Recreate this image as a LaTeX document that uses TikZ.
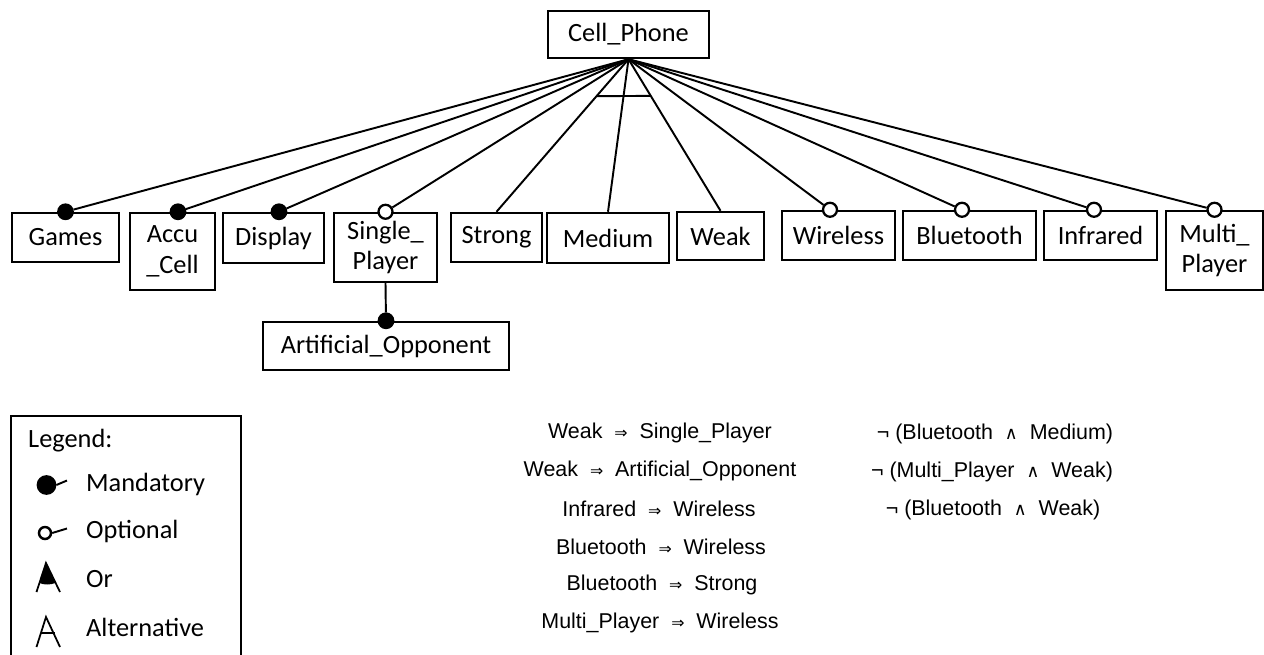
\documentclass[tikz,border=0pt]{standalone}
\usepackage{fontspec}
\setmainfont{Carlito}
\newfontfamily\arialfont{Liberation Sans}
\newfontfamily\symfont{DejaVu Sans}
\usepackage{tikz}
\usetikzlibrary{calc}
\newcommand{\impl}{~~{\symfont\fontsize{9}{9}\selectfont ⇒}~~}
\newcommand{\conj}{~~{\symfont\fontsize{10}{10}\selectfont ∧}~~}

\begin{document}
\begin{tikzpicture}[x=0.02cm,y=-0.02cm,
          feat/.style={draw,line width=1.4pt,align=center,inner sep=0pt,
                       font=\fontsize{15}{17.6}\selectfont},
          mand/.style={circle,draw,fill=black,line width=1pt,
                       minimum size=0.3cm,inner sep=0pt},
          opt/.style={circle,draw,fill=white,line width=1.3pt,
                      minimum size=0.28cm,inner sep=0pt},
          edge/.style={line width=1.1pt},
          cons/.style={font=\arialfont\fontsize{12.2}{14}\selectfont},
          legtext/.style={anchor=west,font=\fontsize{15}{17.6}\selectfont},
        ]
        \useasboundingbox (0,0) rectangle (1264,655);
        \node[feat,minimum width=3.22cm,minimum height=0.94cm] (cellphone) at (628.5,34.5){Cell\_Phone};
        \node[feat,minimum width=2.14cm,minimum height=0.98cm] (games)     at (65.5,237.5){Games};
        \node[feat,minimum width=1.70cm,minimum height=1.54cm] (accu)      at (172.5,251.5){Accu\\\_Cell};
        \node[feat,minimum width=2.02cm,minimum height=1.00cm] (display)   at (273.5,238){Display};
        \node[feat,minimum width=2.06cm,minimum height=1.38cm] (single)    at (385.5,247.5){Single\_\\Player};
        \node[feat,minimum width=1.82cm,minimum height=0.98cm] (strong)    at (496.5,237.5){Strong};
        \node[feat,minimum width=2.44cm,minimum height=1.00cm] (medium)    at (608,238){Medium};
        \node[feat,minimum width=1.74cm,minimum height=0.96cm] (weak)      at (720.5,236){Weak};
        \node[feat,minimum width=2.26cm,minimum height=0.98cm] (wireless)  at (838.5,235.5){Wireless};
        \node[feat,minimum width=2.66cm,minimum height=0.98cm] (bluetooth) at (969.5,235.5){Bluetooth};
        \node[feat,minimum width=2.26cm,minimum height=0.98cm] (infrared)  at (1100.5,235.5){Infrared};
        \node[feat,minimum width=1.94cm,minimum height=1.58cm] (multi)     at (1214.5,250.5){Multi\_\\Player};
        \node[feat,minimum width=4.92cm,minimum height=0.96cm] (artificial) at (386,346){Artificial\_Opponent};
        % mandatory / optional marks
        \node[mand] (games-c)      at (games.north){};
        \node[mand] (accu-c)       at ([xshift=0.11cm]accu.north){};
        \node[mand] (display-c)    at ([xshift=0.11cm]display.north){};
        \node[opt]  (single-c)     at (single.north){};
        \node[opt]  (wireless-c)   at ([xshift=-0.17cm]wireless.north){};
        \node[opt]  (bluetooth-c)  at ([xshift=-0.15cm]bluetooth.north){};
        \node[opt]  (infrared-c)   at ([xshift=-0.13cm]infrared.north){};
        \node[opt]  (multi-c)      at (multi.north){};
        \node[mand] (artificial-c) at (artificial.north){};
        \coordinate (root) at (cellphone.south);
        \foreach \f in {games-c,accu-c,display-c,single-c,wireless-c,bluetooth-c,infrared-c,multi-c}{
          \draw[edge] (root)--(\f);
        }
        \foreach \f in {strong,medium,weak}{
          \draw[edge] (root)--(\f.north);
        }
        \draw[edge] ($(root)!0.242!(strong.north)$)--($(root)!0.242!(weak.north)$);
        \draw[edge] (single.south)--(artificial-c);
        % constraints
        \node[cons] (c1) at (660,433){Weak\impl Single\_Player};
        \node[cons] (c2) at (660,471){Weak\impl Artificial\_Opponent};
        \node[cons] (c3) at (659,509){Infrared\impl Wireless};
        \node[cons] (c4) at (661,547){Bluetooth\impl Wireless};
        \node[cons] (c5) at (662,585){Bluetooth\impl Strong};
        \node[cons] (c6) at (660,623){Multi\_Player\impl Wireless};
        \node[cons] (c7) at (995,434){¬ (Bluetooth\conj Medium)};
        \node[cons] (c8) at (992,472){¬ (Multi\_Player\conj Weak)};
        \node[cons] (c9) at (993,510){¬ (Bluetooth\conj Weak)};
        % legend
        \draw[line width=1.4pt] (11,660) |- (241,416)--(241,660);
        \node[legtext] (leg)  at (22,441){Legend:};
        \node[legtext] (lmand) at (80,484){Mandatory};
        \node[legtext] (lopt)  at (80,531){Optional};
        \node[legtext] (lor)   at (80,579){Or};
        \node[legtext] (lalt)  at (80,627){Alternative};
        \node[mand,minimum size=0.36cm] (lmand-c) at (46.5,485){};
        \draw[edge] (lmand-c.east)--(67,480.5);
        \node[opt,minimum size=0.24cm,line width=1.4pt] (lopt-c) at (45,533){};
        \draw[edge] (lopt-c.east)--(67,528.5);
        \draw[line width=1pt] (36.5,592)--(46,563)--(60,592);
        \fill (46,562)--(39.5,583) .. controls (44,585) and (50,585) .. (55.5,583)--cycle;
        \draw[line width=1pt] (36.5,647)--(46,617)--(60,647);
        \draw[line width=1pt] (41,633)--(54.5,633);
      \end{tikzpicture}
\end{document}
